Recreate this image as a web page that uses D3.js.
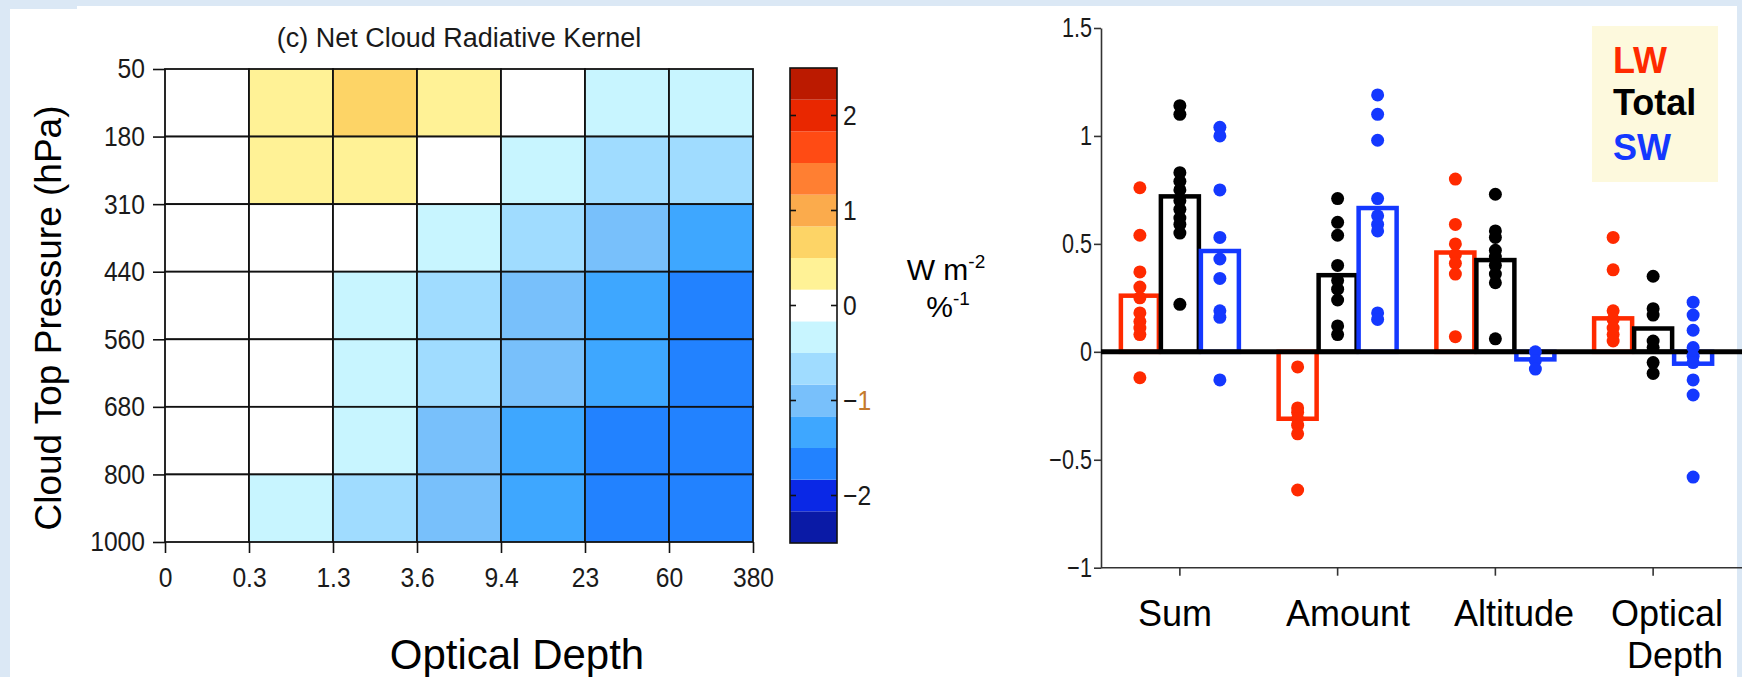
<!DOCTYPE html>
<html>
<head>
<meta charset="utf-8">
<script src="https://cdn.jsdelivr.net/npm/d3@7"></script>
<style>
  body { margin: 0; background: #dbe8f5; }
  svg text { font-family: "Liberation Sans", Arial, Helvetica, sans-serif; }
</style>
</head>
<body>
<svg width="1742" height="677"></svg>
<script>
// ---- heatmap data (rows top->bottom: 50-180 ... 800-1000 hPa) ----
const tauEdges = ['0', '0.3', '1.3', '3.6', '9.4', '23', '60', '380'];
const ctpEdges = ['50', '180', '310', '440', '560', '680', '800', '1000'];
const kernelRow50 = [0.02, 0.3, 0.62, 0.3, 0.03, -0.3, -0.3];
const kernelRow180 = [0.02, 0.3, 0.3, 0.04, -0.3, -0.62, -0.65];
const kernelRow310 = [0.0, 0.0, -0.05, -0.3, -0.65, -1.0, -1.3];
const kernelRow440 = [0.0, -0.02, -0.3, -0.65, -1.0, -1.35, -1.7];
const kernelRow560 = [0.0, -0.03, -0.32, -0.68, -1.02, -1.38, -1.72];
const kernelRow680 = [0.0, -0.05, -0.33, -1.0, -1.35, -1.72, -1.75];
const kernelRow800 = [-0.02, -0.3, -0.68, -1.02, -1.38, -1.75, -1.78];
const kernel = [kernelRow50, kernelRow180, kernelRow310, kernelRow440, kernelRow560, kernelRow680, kernelRow800];

const cbarThresholds = [-13/6, -11/6, -1.5, -7/6, -5/6, -0.5, -1/6, 1/6, 0.5, 5/6, 7/6, 1.5, 11/6, 13/6];
const cbarColors = ['#0a1aa6', '#0a28e6', '#2282ff', '#3ea7ff', '#78c0fb', '#a0dcff', '#c8f5ff', '#ffffff',
                    '#fff296', '#fdd466', '#fbab4c', '#ff7f32', '#ff4b14', '#e92700', '#bb1a00'];
const cbarTicks = [-2, -1, 0, 1, 2];

// ---- bar chart data ----
const groups = ['Sum', 'Amount', 'Altitude', 'Optical Depth'];
const series = ['LW', 'Total', 'SW'];
const seriesColors = ['#ff2a00', '#000000', '#1438ff'];
const lwMeans = [0.26, -0.31, 0.46, 0.155];
const totalMeans = [0.72, 0.355, 0.425, 0.108];
const swMeans = [0.467, 0.666, -0.035, -0.055];
const lwModels = [
  [0.76, 0.54, 0.37, 0.30, 0.25, 0.18, 0.14, 0.11, 0.08, -0.12],
  [-0.07, -0.26, -0.28, -0.31, -0.34, -0.38, -0.64],
  [0.80, 0.59, 0.50, 0.45, 0.41, 0.36, 0.07],
  [0.53, 0.38, 0.19, 0.15, 0.11, 0.08, 0.05]
];
const totalModels = [
  [1.14, 1.10, 0.83, 0.79, 0.75, 0.70, 0.66, 0.62, 0.59, 0.55, 0.22],
  [0.71, 0.60, 0.54, 0.40, 0.33, 0.29, 0.24, 0.12, 0.08],
  [0.73, 0.56, 0.53, 0.47, 0.44, 0.40, 0.36, 0.32, 0.06],
  [0.35, 0.20, 0.17, 0.05, 0.02, -0.05, -0.10]
];
const swModels = [
  [1.04, 1.00, 0.75, 0.53, 0.43, 0.34, 0.19, 0.16, -0.13],
  [1.19, 1.10, 0.98, 0.71, 0.63, 0.59, 0.56, 0.18, 0.15],
  [0.0, -0.04, -0.08],
  [0.23, 0.17, 0.10, 0.02, -0.02, -0.05, -0.13, -0.20, -0.58]
];
const yTicks = [-1, -0.5, 0, 0.5, 1, 1.5];

const svg = d3.select('svg');

// squeeze text horizontally (narrow tick font of the original)
function condense(sel, k) {
  sel.each(function () {
    const t = d3.select(this);
    const x = +t.attr('x') || 0;
    t.attr('x', 0).attr('transform', `translate(${x},0) scale(${k},1)`);
  });
}

// white page behind both panels
svg.append('rect').attr('x', 10).attr('y', 9).attr('width', 1727).attr('height', 668).attr('fill', '#fff');
svg.append('rect').attr('x', 77).attr('y', 6).attr('width', 1660).attr('height', 10).attr('fill', '#fff');

// ================= left: heatmap =================
const xEdge = d3.scalePoint().domain(tauEdges).range([165, 753]);
const yEdge = d3.scalePoint().domain(ctpEdges).range([69, 542]);
const color = d3.scaleThreshold().domain(cbarThresholds).range(cbarColors);

const cells = [];
kernel.forEach((row, r) => row.forEach((v, c) => cells.push({ r, c, v })));

const hm = svg.append('g');
hm.selectAll('rect.cell')
  .data(cells)
  .enter()
  .append('rect')
  .attr('class', 'cell')
  .attr('x', d => xEdge(tauEdges[d.c]))
  .attr('y', d => yEdge(ctpEdges[d.r]))
  .attr('width', d => xEdge(tauEdges[d.c + 1]) - xEdge(tauEdges[d.c]))
  .attr('height', d => yEdge(ctpEdges[d.r + 1]) - yEdge(ctpEdges[d.r]))
  .attr('fill', d => color(d.v))
  .attr('stroke', '#111')
  .attr('stroke-width', 1.8);

const hmX = svg.append('g')
  .attr('transform', 'translate(0,542)')
  .call(d3.axisBottom(xEdge).tickSize(11).tickPadding(14));
const hmY = svg.append('g')
  .attr('transform', 'translate(165,0)')
  .call(d3.axisLeft(yEdge).tickSize(12).tickPadding(8));
[hmX, hmY].forEach(a => {
  a.select('.domain').remove();
  a.selectAll('line').attr('stroke', '#111').attr('stroke-width', 1.6);
  a.selectAll('text').attr('font-size', 28).attr('fill', '#1a1a1a')
    .style('font-family', '"Liberation Sans", Arial, sans-serif');
  condense(a.selectAll('text'), 0.88);
});

svg.append('text')
  .attr('x', 459).attr('y', 47)
  .attr('text-anchor', 'middle')
  .attr('font-size', 27)
  .attr('fill', '#1a1a1a')
  .text('(c) Net Cloud Radiative Kernel');

svg.append('text')
  .attr('transform', 'translate(61,318) rotate(-90)')
  .attr('text-anchor', 'middle')
  .attr('font-size', 37)
  .text('Cloud Top Pressure (hPa)');

svg.append('text')
  .attr('x', 517).attr('y', 669)
  .attr('text-anchor', 'middle')
  .attr('font-size', 42)
  .text('Optical Depth');

// colorbar
const cbY = d3.scaleLinear().domain([-2.5, 2.5]).range([543, 68]);
const cbLevels = d3.range(cbarColors.length).map(i => ({
  lo: i === 0 ? -2.5 : cbarThresholds[i - 1],
  hi: i === cbarColors.length - 1 ? 2.5 : cbarThresholds[i],
  col: cbarColors[i]
}));
const cb = svg.append('g');
cb.selectAll('rect')
  .data(cbLevels)
  .enter()
  .append('rect')
  .attr('x', 790)
  .attr('width', 47)
  .attr('y', d => cbY(d.hi))
  .attr('height', d => cbY(d.lo) - cbY(d.hi))
  .attr('fill', d => d.col);
cb.append('rect')
  .attr('x', 790).attr('y', 68).attr('width', 47).attr('height', 475)
  .attr('fill', 'none').attr('stroke', '#111').attr('stroke-width', 1.6);
cb.selectAll('line.tl')
  .data(cbarTicks)
  .enter()
  .append('line')
  .attr('x1', 790).attr('x2', 796)
  .attr('y1', d => cbY(d)).attr('y2', d => cbY(d))
  .attr('stroke', '#111').attr('stroke-width', 1.6);
cb.selectAll('line.tr')
  .data(cbarTicks)
  .enter()
  .append('line')
  .attr('x1', 831).attr('x2', 837)
  .attr('y1', d => cbY(d)).attr('y2', d => cbY(d))
  .attr('stroke', '#111').attr('stroke-width', 1.6);
const cbLab = cb.selectAll('text')
  .data(cbarTicks)
  .enter()
  .append('text')
  .attr('x', 843)
  .attr('y', d => cbY(d) + 10)
  .attr('font-size', 28)
  .attr('fill', '#1a1a1a');
cbLab.each(function (d) {
  const t = d3.select(this);
  if (d === -1) {
    t.append('tspan').text('\u2212');
    t.append('tspan').attr('fill', '#c47a2c').text('1');
  } else {
    t.text(d3.format('')(d));
  }
});
condense(cbLab, 0.88);

const unit1 = svg.append('text').attr('x', 946).attr('y', 280).attr('text-anchor', 'middle').attr('font-size', 30);
unit1.append('tspan').text('W m');
unit1.append('tspan').attr('dy', -12).attr('font-size', 19).text('-2');
const unit2 = svg.append('text').attr('x', 948).attr('y', 317).attr('text-anchor', 'middle').attr('font-size', 30);
unit2.append('tspan').text('%');
unit2.append('tspan').attr('dy', -12).attr('font-size', 19).text('-1');

// ================= right: bar chart =================
const x0 = d3.scaleBand().domain(groups).range([1101, 1732]);
const x1 = d3.scaleBand().domain(series).range([0, x0.bandwidth()]).paddingInner(0).paddingOuter(0.472);
const y = d3.scaleLinear().domain([-1, 1.5]).range([567.7, 28]);

const means = [lwMeans, totalMeans, swMeans];
const models = [lwModels, totalModels, swModels];

const barRows = [];
const dotRows = [];
series.forEach((s, si) => {
  groups.forEach((g, gi) => {
    barRows.push({ g, s, si, v: means[si][gi] });
    models[si][gi].forEach(v => dotRows.push({ g, s, si, v }));
  });
});

const yAx = svg.append('g')
  .attr('transform', 'translate(1101,0)')
  .call(d3.axisLeft(y).tickValues(yTicks).tickFormat(d3.format('')).tickSize(7).tickSizeOuter(0).tickPadding(2));
yAx.selectAll('text').attr('font-size', 27).attr('fill', '#1a1a1a')
  .style('font-family', '"Liberation Sans", Arial, sans-serif');
condense(yAx.selectAll('text'), 0.8);
yAx.selectAll('line, path').attr('stroke', '#333').attr('stroke-width', 1.6);

const xAx = svg.append('g')
  .attr('transform', `translate(0,${y(-1)})`)
  .call(d3.axisBottom(x0).tickSize(8).tickSizeOuter(0).tickFormat(''));
xAx.select('.domain').attr('d', 'M1101,0H1742');
xAx.selectAll('line, path').attr('stroke', '#333').attr('stroke-width', 1.6);

svg.selectAll('rect.bar')
  .data(barRows)
  .enter()
  .append('rect')
  .attr('class', 'bar')
  .attr('x', d => x0(d.g) + x1(d.s) + 1)
  .attr('width', x1.bandwidth() - 2)
  .attr('y', d => y(Math.max(0, d.v)))
  .attr('height', d => Math.abs(y(d.v) - y(0)))
  .attr('fill', 'none')
  .attr('stroke', d => seriesColors[d.si])
  .attr('stroke-width', 4.5);

svg.append('line')
  .attr('x1', 1101).attr('x2', 1742)
  .attr('y1', y(0)).attr('y2', y(0))
  .attr('stroke', '#000').attr('stroke-width', 5);

svg.selectAll('circle.model')
  .data(dotRows)
  .enter()
  .append('circle')
  .attr('class', 'model')
  .attr('cx', d => x0(d.g) + x1(d.s) + x1.bandwidth() / 2)
  .attr('cy', d => y(d.v))
  .attr('r', 6.5)
  .attr('fill', d => seriesColors[d.si]);

// group labels
const labelPos = { 'Sum': [1175, 'middle'], 'Amount': [1348, 'middle'], 'Altitude': [1514, 'middle'], 'Optical Depth': [1723, 'end'] };
groups.forEach(g => {
  const t = svg.append('text')
    .attr('x', labelPos[g][0]).attr('y', 626)
    .attr('text-anchor', labelPos[g][1])
    .attr('font-size', 36);
  g.split(' ').forEach((w, i) => {
    t.append('tspan').attr('x', labelPos[g][0]).attr('dy', i ? 42 : 0).text(w);
  });
});

// legend
svg.append('rect')
  .attr('x', 1592).attr('y', 26).attr('width', 126).attr('height', 156)
  .attr('fill', '#fdf9dd');
const legendY = [73, 115, 160];
svg.selectAll('text.legend')
  .data(series)
  .enter()
  .append('text')
  .attr('class', 'legend')
  .attr('x', 1613)
  .attr('y', (d, i) => legendY[i])
  .attr('font-size', 36)
  .attr('font-weight', 'bold')
  .attr('fill', (d, i) => seriesColors[i])
  .text(d => d);
</script>
</body>
</html>
